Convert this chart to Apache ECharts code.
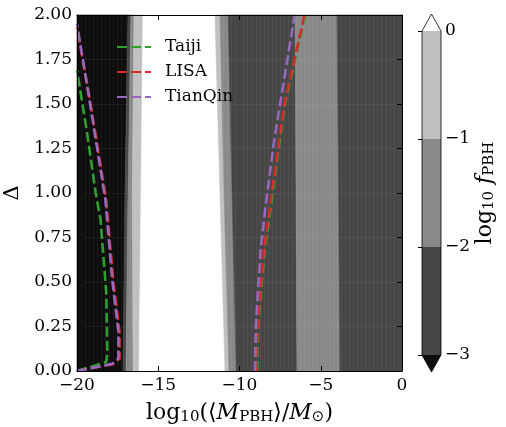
<!DOCTYPE html>
<html>
<head>
<meta charset="utf-8">
<script src="https://cdn.jsdelivr.net/npm/echarts@6/dist/echarts.min.js"></script>
<style>
  html, body { margin: 0; padding: 0; background: #fff; }
  #chart { width: 506px; height: 427px; }
</style>
</head>
<body>
<div id="chart"></div>
<script>
// Δ values at which the band edges were read
const deltaRows = [0, 1, 2];
// x position of each band edge (log10 M) at deltaRows
const bandEdges = [
  [-20, -20, -20],
  [-17.17, -17.05, -16.86],
  [-16.98, -16.86, -16.68],
  [-16.55, -16.6, -16.49],
  [-16.18, -16.06, -15.94],
  [-10.89, -11.2, -11.51],
  [-10.65, -10.95, -11.2],
  [-10.2, -10.46, -10.7],
  [-6.46, -6.52, -6.58],
  [-3.82, -3.9, -4.0],
  [0, 0, 0]
];
// log10 f_PBH inside each band
const bandLogF = [-3.5, -2.5, -1.5, -0.5, 0.5, -0.5, -1.5, -2.5, -1.5, -2.5];

const cbTicks = [-3, -2, -1, 0];

// detector curves [log10 M, Δ]
const taijiLeft = [[-20, 0], [-18.2, 0.05], [-18.13, 0.1], [-18.2, 0.44], [-18.55, 0.85], [-18.85, 1.0], [-19.4, 1.35], [-20, 1.69]];
const lisaLeft = [[-20, 0], [-17.75, 0.04], [-17.38, 0.07], [-17.38, 0.22], [-17.46, 0.28], [-17.77, 0.51], [-18.2, 0.96], [-19.2, 1.52], [-20, 1.93]];
const tianqinLeft = [[-20, 0], [-17.85, 0.04], [-17.45, 0.07], [-17.45, 0.22], [-17.53, 0.28], [-17.83, 0.51], [-18.25, 0.96], [-19.25, 1.53], [-20, 1.95]];
const taijiRight = [[-8.9, 0], [-8.85, 0.25], [-8.45, 0.68], [-8.1, 0.9], [-7.57, 1.26], [-7.2, 1.5], [-5.95, 2.0]];
const lisaRight = [[-8.95, 0], [-8.9, 0.25], [-8.5, 0.68], [-8.16, 0.9], [-7.62, 1.26], [-7.24, 1.5], [-6.0, 2.0]];
const tianqinRight = [[-9.05, 0], [-9.0, 0.25], [-8.7, 0.68], [-8.43, 0.9], [-7.92, 1.26], [-7.5, 1.5], [-6.6, 2.0]];

const FONT = 'DejaVu Serif';

function levelColor(v) {
  if (v < -3) return '#0d0d0d';
  if (v < -2) return '#464646';
  if (v < -1) return '#898989';
  if (v < 0) return '#c0c0c0';
  return '#ffffff';
}
function minus(v) {
  return String(v).replace('-', '\u2212');
}

const rich = {
  t: { fontFamily: FONT, fontSize: 22, color: '#000', lineHeight: 24 },
  i: { fontFamily: FONT, fontStyle: 'italic', fontSize: 22, color: '#000', lineHeight: 24 },
  s: { fontFamily: FONT, fontSize: 15, color: '#000', lineHeight: 13, verticalAlign: 'bottom' },
  o: { fontFamily: 'DejaVu Sans', fontSize: 15, color: '#000', lineHeight: 13, verticalAlign: 'bottom' }
};

const chart = echarts.init(document.getElementById('chart'), null, { renderer: 'canvas' });

function bandItem(params, api) {
  const i = api.value(0);
  const pts = [];
  deltaRows.forEach((d, k) => pts.push(api.coord([bandEdges[i][k], d])));
  for (let k = deltaRows.length - 1; k >= 0; k--) {
    pts.push(api.coord([bandEdges[i + 1][k], deltaRows[k]]));
  }
  const c = levelColor(bandLogF[i]);
  return { type: 'polygon', shape: { points: pts }, style: { fill: c, stroke: c, lineWidth: 0.6 } };
}

function colorbarItem(params, api) {
  const children = [];
  for (let k = 0; k < cbTicks.length - 1; k++) {
    const p0 = api.coord([0, cbTicks[k]]);
    const p1 = api.coord([1, cbTicks[k + 1]]);
    children.push({
      type: 'rect',
      shape: { x: p0[0], y: p1[1], width: p1[0] - p0[0], height: p0[1] - p1[1] },
      style: { fill: levelColor((cbTicks[k] + cbTicks[k + 1]) / 2) }
    });
  }
  const bl = api.coord([0, cbTicks[0]]), br = api.coord([1, cbTicks[0]]);
  const tl = api.coord([0, cbTicks[cbTicks.length - 1]]), tr = api.coord([1, cbTicks[cbTicks.length - 1]]);
  const mx = (bl[0] + br[0]) / 2;
  const ext = 17;
  children.push({ type: 'polygon', shape: { points: [tl, tr, [mx, tl[1] - ext]] }, style: { fill: levelColor(1) } });
  children.push({ type: 'polygon', shape: { points: [bl, br, [mx, bl[1] + ext]] }, style: { fill: levelColor(-4) } });
  children.push({
    type: 'polygon',
    shape: { points: [bl, [mx, bl[1] + ext], br, tr, [mx, tl[1] - ext], tl] },
    style: { fill: null, stroke: '#000', lineWidth: 0.8 }
  });
  return { type: 'group', children: children };
}

function curve(name, color, data) {
  return {
    name: name,
    type: 'line',
    xAxisIndex: 0,
    yAxisIndex: 0,
    data: data,
    symbol: 'none',
    smooth: false,
    lineStyle: { color: color, width: 2.6, type: [10, 4] },
    itemStyle: { color: color },
    z: 4
  };
}

const axisLineStyle = { show: true, onZero: false, lineStyle: { color: '#000', width: 1 } };
const tickStyle = { show: true, inside: true, length: 5, lineStyle: { color: '#000', width: 1 } };
const labelStyle = { fontFamily: FONT, fontSize: 17, color: '#000' };

chart.setOption({
  animation: false,
  backgroundColor: '#fff',
  grid: [
    { left: 77, top: 15, width: 325, height: 356, outerBoundsMode: 'none', containLabel: false },
    { left: 422, top: 31, width: 19, height: 324, outerBoundsMode: 'none', containLabel: false }
  ],
  legend: {
    data: ['Taiji', 'LISA', 'TianQin'],
    orient: 'vertical',
    left: 116,
    top: 38,
    padding: 0,
    itemWidth: 34,
    itemHeight: 14,
    itemGap: 7,
    itemStyle: { opacity: 0 },
    textStyle: { fontFamily: FONT, fontSize: 17, color: '#000', lineHeight: 18, padding: [0, 0, 0, 9] }
  },
  xAxis: [
    {
      gridIndex: 0, type: 'value', min: -20, max: 0, interval: 5, position: 'bottom',
      axisLine: axisLineStyle, axisTick: tickStyle,
      axisLabel: Object.assign({ margin: 6, formatter: minus }, labelStyle),
      splitLine: { show: false },
      minorTick: { show: false, splitNumber: 20 },
      minorSplitLine: { show: true, lineStyle: { color: 'rgba(255,255,255,0.05)', width: 1 } },
      name: '{t|log}{s|10}{t|(⟨}{i|M}{s|PBH}{t|⟩/}{i|M}{o|⊙}{t|)}',
      nameLocation: 'middle', nameGap: 30,
      nameTextStyle: { rich: rich },
      z: 5
    },
    {
      gridIndex: 0, type: 'value', min: -20, max: 0, interval: 5, position: 'top',
      axisLine: axisLineStyle, axisTick: tickStyle, axisLabel: { show: false }, splitLine: { show: false }, z: 5
    },
    { gridIndex: 1, type: 'value', min: 0, max: 1, show: false }
  ],
  yAxis: [
    {
      gridIndex: 0, type: 'value', min: 0, max: 2, interval: 0.25, position: 'left',
      axisLine: axisLineStyle, axisTick: tickStyle,
      axisLabel: Object.assign({ margin: 5, formatter: v => v.toFixed(2) }, labelStyle),
      splitLine: { show: true, lineStyle: { color: 'rgba(255,255,255,0.06)', width: 1 } },
      name: 'Δ', nameLocation: 'middle', nameGap: 52, nameRotate: 90,
      nameTextStyle: { fontFamily: FONT, fontSize: 21, color: '#000' },
      z: 5
    },
    {
      gridIndex: 0, type: 'value', min: 0, max: 2, interval: 0.25, position: 'right',
      axisLine: axisLineStyle, axisTick: tickStyle, axisLabel: { show: false }, splitLine: { show: false }, z: 5
    },
    {
      gridIndex: 1, type: 'value', min: -3, max: 0, interval: 1, position: 'right',
      axisLine: { show: false },
      axisTick: { show: true, inside: true, length: 4, lineStyle: { color: '#000', width: 1 } },
      axisLabel: Object.assign({ margin: 4, formatter: minus }, labelStyle),
      splitLine: { show: false },
      name: '{t|log}{s|10}{i| f}{s|PBH}', nameLocation: 'middle', nameGap: 32, nameRotate: 90,
      nameTextStyle: { rich: rich },
      z: 5
    }
  ],
  series: [
    {
      type: 'custom',
      xAxisIndex: 0,
      yAxisIndex: 0,
      renderItem: bandItem,
      data: bandLogF.map((v, i) => [i, v]),
      silent: true,
      z: 1
    },
    {
      type: 'custom',
      xAxisIndex: 2,
      yAxisIndex: 2,
      renderItem: colorbarItem,
      data: [[0]],
      silent: true,
      z: 1
    },
    curve('Taiji', '#2ca02c', taijiLeft),
    curve('Taiji', '#2ca02c', taijiRight),
    curve('LISA', '#d62728', lisaLeft),
    curve('LISA', '#d62728', lisaRight),
    curve('TianQin', '#9467bd', tianqinLeft),
    curve('TianQin', '#9467bd', tianqinRight)
  ]
});
</script>
</body>
</html>
